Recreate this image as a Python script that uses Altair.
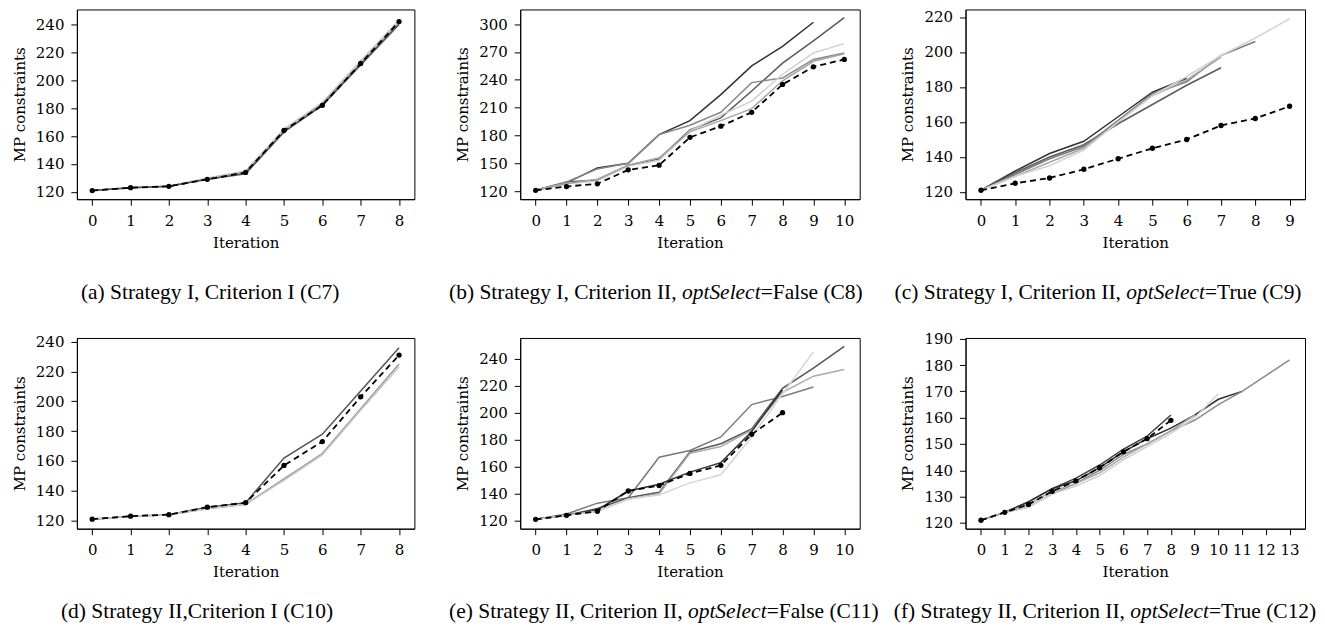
import altair as alt
import pandas as pd

# ---------------- data ----------------
# (a) Strategy I, Criterion I (C7)
A_RUNS = [
    [121, 123, 124, 130, 135, 165, 184, 214, 243],
    [121, 123, 124, 129, 134, 163, 183, 212, 241],
    [121, 123, 124, 129, 133, 163, 182, 211, 240],
]
A_BEST = [121, 123, 124, 129, 134, 164, 182, 212, 242]

# (b) Strategy I, Criterion II, optSelect=False (C8)
B_RUNS = [
    [121, 129, 145, 150, 181, 196, 224, 255, 276, 302],
    [121, 130, 132, 148, 155, 186, 199, 228, 258, 282, 307],
    [121, 130, 144, 150, 181, 191, 205, 237, 242, 262, 269],
    [121, 128, 131, 147, 153, 185, 202, 217, 246, 269, 279],
    [121, 128, 133, 148, 156, 184, 196, 209, 239, 260, 268],
]
B_BEST = [121, 125, 128, 143, 148, 178, 190, 205, 235, 254, 262]

# (c) Strategy I, Criterion II, optSelect=True (C9)
C_RUNS = [
    [121, 132, 142, 149, 163, 177, 185],
    [121, 131, 140, 147, 159, 170, 181, 191],
    [121, 130, 139, 146, 161, 176, 183, 198, 206],
    [121, 129, 137, 145, 160, 175, 184, 197],
    [121, 129, 135, 144, 160, 175, 186, 198, 208, 219],
]
C_BEST = [121, 125, 128, 133, 139, 145, 150, 158, 162, 169]

# (d) Strategy II, Criterion I (C10)
D_RUNS = [
    [121, 123, 124, 129, 132, 162, 178, 207, 236],
    [121, 123, 124, 128, 131, 148, 165, 195, 225],
    [121, 123, 124, 128, 131, 147, 164, 194, 223],
]
D_BEST = [121, 123, 124, 129, 132, 157, 173, 203, 231]

# (e) Strategy II, Criterion II, optSelect=False (C11)
E_RUNS = [
    [121, 125, 133, 137, 167, 172, 182, 206, 212, 219],
    [121, 124, 129, 137, 141, 171, 177, 188, 218, 233, 249],
    [121, 124, 127, 136, 140, 170, 175, 187, 215, 227, 232],
    [121, 124, 128, 142, 147, 156, 163, 186, 217],
    [121, 124, 127, 136, 139, 148, 154, 182, 214, 245],
]
E_BEST = [121, 124, 127, 142, 146, 155, 161, 184, 200]

# (f) Strategy II, Criterion II, optSelect=True (C12)
F_RUNS = [
    [121, 124, 128, 133, 137, 142, 148, 153, 161],
    [121, 124, 128, 133, 136, 141, 147, 152, 156, 161, 167, 170],
    [121, 124, 126, 131, 135, 140, 146, 150, 155, 159, 165, 170, 176, 182],
    [121, 124, 126, 131, 134, 138, 144, 149, 154, 160, 169],
    [121, 124, 127, 132, 135, 139, 145, 150, 155, 161],
]
F_BEST = [121, 124, 127, 132, 136, 141, 147, 152, 159]

CAPTIONS = [
    ("(a) Strategy I, Criterion I (C7)", "", ""),
    ("(b) Strategy I, Criterion II,", "optSelect", "=False (C8)"),
    ("(c) Strategy I, Criterion II,", "optSelect", "=True (C9)"),
    ("(d) Strategy II,Criterion I (C10)", "", ""),
    ("(e) Strategy II, Criterion II,", "optSelect", "=False (C11)"),
    ("(f) Strategy II, Criterion II,", "optSelect", "=True (C12)"),
]

# ---------------- styles ----------------
GRAYS3 = ["#c4c4c4", "#8c8c8c", "#555555"]
GRAYS_B = ["#333333", "#5a5a5a", "#8a8a8a", "#cfcfcf", "#a5a5a5"]
GRAYS_C = ["#333333", "#5c5c5c", "#7a7a7a", "#a8a8a8", "#d3d3d3"]
GRAYS_D = ["#555555", "#9a9a9a", "#c8c8c8"]
GRAYS_E = ["#7a7a7a", "#555555", "#aaaaaa", "#333333", "#d6d6d6"]
GRAYS_F = ["#444444", "#2f2f2f", "#8a8a8a", "#d0d0d0", "#aaaaaa"]

FONT = "DejaVu Serif"
CAP_FONT = "Liberation Serif"
CAP_SIZE = 21.5
IT_W = 3.666 * CAP_SIZE  # width of italic "optSelect"
SP_W = 0.25 * CAP_SIZE   # width of a space


def caption_layers(parts, anchor, ypos):
    pre, ital, post = parts
    layers = []
    def txt(s, x, align, style):
        return alt.Chart(pd.DataFrame({"t": [s]})).mark_text(
            align=align, baseline="alphabetic", font=CAP_FONT, fontSize=CAP_SIZE,
            fontStyle=style, color="black"
        ).encode(text="t:N", x=alt.value(x), y=alt.value(ypos))
    if ital:
        layers.append(txt(pre, anchor - SP_W, "right", "normal"))
        layers.append(txt(ital, anchor, "left", "italic"))
        layers.append(txt(post, anchor + IT_W, "left", "normal"))
    else:
        layers.append(txt(pre, anchor, "left", "normal"))
    return layers


def panel(runs, colors, best, xdom, ydom, xticks, yticks, w, h, cap, anchor, cap_y):
    rows = []
    for r, (vals, col) in enumerate(zip(runs, colors)):
        for i, v in enumerate(vals):
            rows.append({"run": r, "it": i, "v": v, "c": col})
    df = pd.DataFrame(rows)
    bdf = pd.DataFrame({"it": list(range(len(best))), "v": best})
    x = alt.X("it:Q", scale=alt.Scale(domain=xdom, nice=False, zero=False),
              axis=alt.Axis(values=xticks, title="Iteration", format="d"))
    y = alt.Y("v:Q", scale=alt.Scale(domain=ydom, nice=False, zero=False),
              axis=alt.Axis(values=yticks, title="MP constraints", format="d"))
    gray = alt.Chart(df).mark_line(strokeWidth=1.5).encode(
        x=x, y=y, color=alt.Color("c:N", scale=None), detail="run:N", order="it:Q")
    dash = alt.Chart(bdf).mark_line(color="black", strokeWidth=1.8, strokeDash=[6, 4]).encode(
        x=x, y=y, order="it:Q")
    dots = alt.Chart(bdf).mark_circle(color="black", size=28, opacity=1).encode(x=x, y=y)
    layers = [gray, dash, dots] + caption_layers(cap, anchor, cap_y)
    return alt.layer(*layers).properties(width=w, height=h)


pa = panel(A_RUNS, GRAYS3, A_BEST, [-0.4, 8.4], [114.8, 250.7], list(range(9)),
           list(range(120, 241, 20)), 338, 190, CAPTIONS[0], 4, 290)
pb = panel(B_RUNS, GRAYS_B, B_BEST, [-0.5, 10.5], [111.4, 315.8], list(range(11)),
           list(range(120, 301, 30)), 340, 190, CAPTIONS[1], 162, 290)
pc = panel(C_RUNS, GRAYS_C, C_BEST, [-0.45, 9.45], [115.9, 224.3], list(range(10)),
           list(range(120, 221, 20)), 340, 190, CAPTIONS[2], 161, 290)
pd_ = panel(D_RUNS, GRAYS_D, D_BEST, [-0.4, 8.4], [114.6, 242.5], list(range(9)),
            list(range(120, 241, 20)), 338, 191, CAPTIONS[3], -16, 280)
pe = panel(E_RUNS, GRAYS_E, E_BEST, [-0.5, 10.5], [114.1, 255.3], list(range(11)),
           list(range(120, 241, 20)), 340, 191, CAPTIONS[4], 168, 280)
pf = panel(F_RUNS, GRAYS_F, F_BEST, [-0.65, 13.65], [117.8, 190.3], list(range(14)),
           list(range(120, 191, 10)), 340, 191, CAPTIONS[5], 165, 280)

chart = alt.concat(
    pa, pb, pc, pd_, pe, pf, columns=3, bounds="flush",
    spacing={"row": 139, "column": 106}
).properties(
    padding={"left": 3, "top": 0, "right": 0, "bottom": 2}
).configure_view(
    stroke="black", strokeWidth=1
).configure_axis(
    grid=False, labelFont=FONT, titleFont=FONT, labelFontSize=15, titleFontSize=15,
    titleFontWeight="normal", labelColor="black", titleColor="black",
    tickColor="black", domainColor="black", tickSize=6, domainWidth=1, tickWidth=1
).configure_axisX(
    labelPadding=8, titlePadding=7
).configure_axisY(
    labelPadding=7, titlePadding=8
)

chart.save("out.html", embed_options={"renderer": "svg", "actions": False})
